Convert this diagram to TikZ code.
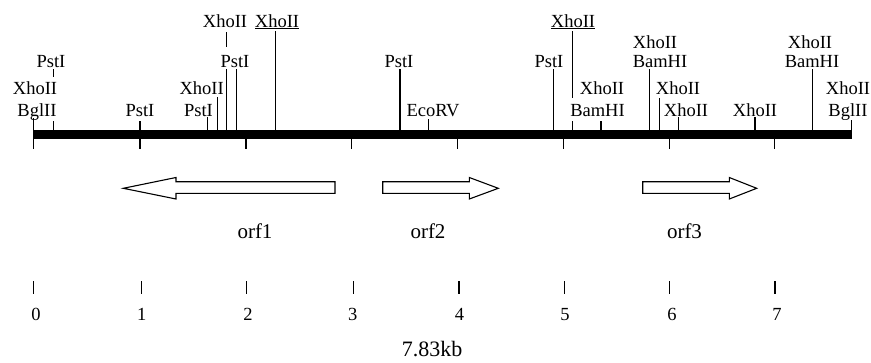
\documentclass[tikz,border=0pt]{standalone}
\usepackage{fontspec}
\setmainfont{Liberation Serif}
\begin{document}
\begin{tikzpicture}[x=1pt,y=-1pt,
  sitelab/.style={anchor=base,inner sep=0pt,font=\fontsize{18.5}{20}\selectfont},
  orflab/.style={anchor=base,inner sep=0pt,font=\fontsize{21}{24}\selectfont},
  kblab/.style={anchor=base,inner sep=0pt,font=\fontsize{22}{24}\selectfont},
  siteline/.style={line width=1.2pt},
  tickline/.style={line width=1.3pt},
  orfarrow/.style={draw,line width=1.1pt,fill=white,line join=miter}]
\useasboundingbox (0,0) rectangle (871,362);
% map bar
\fill (33.5,130) rectangle (851.7,139);
% site lines
\draw[siteline] (33.5,118) -- (33.5,149);
\draw[siteline] (53.3,121) -- (53.3,130);
\draw[siteline] (53.3,69) -- (53.3,77);
\draw[siteline] (140,121) -- (140,130);
\draw[siteline] (207.7,117) -- (207.7,130);
\draw[siteline] (217.3,97) -- (217.3,130);
\draw[siteline] (226.7,69) -- (226.7,130);
\draw[siteline] (226.7,32) -- (226.7,47);
\draw[siteline] (236.7,69) -- (236.7,130);
\draw[siteline] (275.7,31) -- (275.7,130);
\draw[siteline] (400,69) -- (400,130);
\draw[siteline] (428.7,119) -- (428.7,130);
\draw[siteline] (553.3,69) -- (553.3,130);
\draw[siteline] (572.7,31) -- (572.7,98);
\draw[siteline] (572.7,121) -- (572.7,130);
\draw[siteline] (601,121) -- (601,130);
\draw[siteline] (649.3,69) -- (649.3,130);
\draw[siteline] (659.3,98) -- (659.3,130);
\draw[siteline] (678.7,117) -- (678.7,130);
\draw[siteline] (755,117) -- (755,130);
\draw[siteline] (812.7,69) -- (812.7,130);
\draw[siteline] (851.7,120) -- (851.7,130);
% ticks below bar
\foreach \x in {140,246,351.7,457.7,563.3,669.3,774.3}
  \draw[siteline] (\x,139) -- (\x,149);
% site labels
\node[sitelab] (a1) at (225,27) {XhoII};
\node[sitelab] (a2) at (277,27) {\underline{XhoII}};
\node[sitelab] (a3) at (573,27) {\underline{XhoII}};
\node[sitelab] (b1) at (655,48) {XhoII};
\node[sitelab] (b2) at (810,48) {XhoII};
\node[sitelab] (c1) at (51,67) {PstI};
\node[sitelab] (c2) at (235,67) {PstI};
\node[sitelab] (c3) at (399,67) {PstI};
\node[sitelab] (c4) at (549,67) {PstI};
\node[sitelab] (c5) at (660,67) {BamHI};
\node[sitelab] (c6) at (812,67) {BamHI};
\node[sitelab] (d1) at (35,94) {XhoII};
\node[sitelab] (d2) at (201.7,94) {XhoII};
\node[sitelab] (d3) at (602,94) {XhoII};
\node[sitelab] (d4) at (678,94) {XhoII};
\node[sitelab] (d5) at (848,94) {XhoII};
\node[sitelab] (e1) at (37,116) {BglII};
\node[sitelab] (e2) at (140,116) {PstI};
\node[sitelab] (e3) at (198.5,116) {PstI};
\node[sitelab] (e4) at (433,116) {EcoRV};
\node[sitelab] (e5) at (597.5,116) {BamHI};
\node[sitelab] (e6) at (686,116) {XhoII};
\node[sitelab] (e7) at (755,116) {XhoII};
\node[sitelab] (e8) at (848,116) {BglII};
% ORF arrows
\draw[orfarrow] (335,181.7) -- (176,181.7) -- (176,177.5) -- (123.3,188.3) -- (176,199) -- (176,193.3) -- (335,193.3) -- cycle;
\draw[orfarrow] (382.7,181.7) -- (469.3,181.7) -- (469.3,177.5) -- (498.3,188.3) -- (469.3,199) -- (469.3,193.3) -- (382.7,193.3) -- cycle;
\draw[orfarrow] (642.7,181.7) -- (729.3,181.7) -- (729.3,177.5) -- (756.7,188.3) -- (729.3,199) -- (729.3,193.3) -- (642.7,193.3) -- cycle;
\node[orflab] (orf1) at (255,238) {orf1};
\node[orflab] (orf2) at (428,238) {orf2};
\node[orflab] (orf3) at (684.5,238) {orf3};
% scale
\foreach \x/\n/\lx in {33.3/0/36,141.7/1/141.7,246.7/2/248,353.3/3/352.7,459/4/459.5,564.3/5/565,669.3/6/672,775/7/777}{
  \draw[tickline] (\x,281) -- (\x,294);
  \node[sitelab] (n\n) at (\lx,320) {\n};
}
\node[kblab] (kb) at (432,356) {7.83kb};
\end{tikzpicture}
\end{document}
